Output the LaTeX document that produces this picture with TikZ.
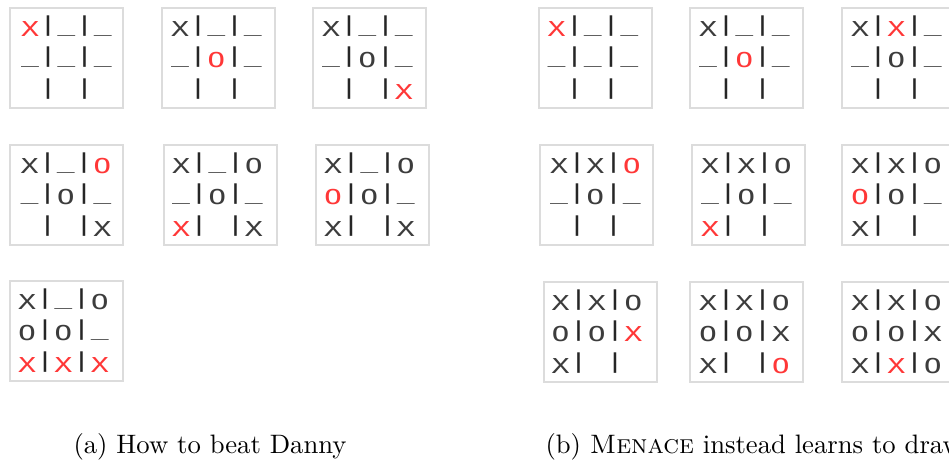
\documentclass[tikz,border=0pt]{standalone}
\usepackage{fontspec}
\newfontfamily\boardfont[FakeStretch=1.45]{DejaVu Sans Mono}
\definecolor{mr}{RGB}{255,55,55}
\definecolor{mk}{RGB}{60,60,60}
\definecolor{boxgray}{RGB}{220,220,220}
\newcommand\US{\raisebox{1.7pt}{\_}}
\newcommand\NN{\relax}
\def\rowA{29}
\def\rowP{31.5}
\tikzset{
  boardbox/.style={draw=boxgray, line width=0.75pt, anchor=north west,
    minimum width=42.4pt, minimum height=37.5pt, inner sep=0pt},
  glyph/.style={anchor=base, inner sep=0pt,
    font=\boardfont\fontsize{7.7pt}{9pt}\selectfont},
  barglyph/.style={glyph, text=black!85, yshift=1.7pt},
  caption/.style={anchor=base west, inner sep=0pt, font=\fontsize{10pt}{12pt}\selectfont}
}
% name, left, top, shift, cells
\newcommand\board[5]{%
  \node[boardbox] (#1) at (#2,#3) {};
  \foreach \g/\c [count=\i from 0] in {#5} {
    \pgfmathtruncatemacro\rr{div(\i,3)}
    \pgfmathtruncatemacro\cc{mod(\i,3)}
    \node[glyph, text=\c] (#1-\i) at ({#2+#4+36.4*\cc}, {#3+\rowA+\rowP*\rr}) {\g};
  }
  \foreach \rr in {0,1,2}{
    \foreach \cc in {0,1}{
      \node[barglyph] (#1-b\rr\cc) at ({#2+#4+18.2+36.4*\cc}, {#3+\rowA+\rowP*\rr}) {|};
    }
  }
}
\begin{document}
\begin{tikzpicture}[x=0.375pt, y=-0.375pt]
\useasboundingbox (0,0) rectangle (949,460);
% (a)
\board{a1}{9}{7}{21}{X/mr, \US/mk, \US/mk, \US/mk, \US/mk, \US/mk, \NN/mk, \NN/mk, \NN/mk}
\board{a2}{161}{7}{19}{X/mk, \US/mk, \US/mk, \US/mk, O/mr, \US/mk, \NN/mk, \NN/mk, \NN/mk}
\board{a3}{312}{7}{19}{X/mk, \US/mk, \US/mk, \US/mk, O/mk, \US/mk, \NN/mk, \NN/mk, X/mr}
\board{a4}{9}{144}{20.5}{X/mk, \US/mk, O/mr, \US/mk, O/mk, \US/mk, \NN/mk, \NN/mk, X/mk}
\board{a5}{163}{144}{18}{X/mk, \US/mk, O/mk, \US/mk, O/mk, \US/mk, X/mr, \NN/mk, X/mk}
\board{a6}{315}{144}{18}{X/mk, \US/mk, O/mk, O/mr, O/mk, \US/mk, X/mk, \NN/mk, X/mk}
\board{a7}{9}{280}{18}{X/mk, \US/mk, O/mk, O/mk, O/mk, \US/mk, X/mr, X/mr, X/mr}
% (b)
\board{b1}{538}{7}{18.5}{X/mr, \US/mk, \US/mk, \US/mk, \US/mk, \US/mk, \NN/mk, \NN/mk, \NN/mk}
\board{b2}{689}{7}{19}{X/mk, \US/mk, \US/mk, \US/mk, O/mr, \US/mk, \NN/mk, \NN/mk, \NN/mk}
\board{b3}{841}{7}{19}{X/mk, X/mr, \US/mk, \US/mk, O/mk, \US/mk, \NN/mk, \NN/mk, \NN/mk}
\board{b4}{539}{144}{20}{X/mk, X/mk, O/mr, \US/mk, O/mk, \US/mk, \NN/mk, \NN/mk, \NN/mk}
\board{b5}{691}{144}{19}{X/mk, X/mk, O/mk, \US/mk, O/mk, \US/mk, X/mr, \NN/mk, \NN/mk}
\board{b6}{841}{144}{19}{X/mk, X/mk, O/mk, O/mr, O/mk, \US/mk, X/mk, \NN/mk, \NN/mk}
\board{b7}{543}{281}{17.5}{X/mk, X/mk, O/mk, O/mk, O/mk, X/mr, X/mk, \NN/mk, \NN/mk}
\board{b8}{689}{281}{19}{X/mk, X/mk, O/mk, O/mk, O/mk, X/mk, X/mk, \NN/mk, O/mr}
\board{b9}{841}{281}{19}{X/mk, X/mk, O/mk, O/mk, O/mk, X/mk, X/mk, X/mr, O/mk}
% captions
\node[caption] (capa) at (73,453) {(a) How to beat Danny};
\node[caption] (capb) at (545,453) {(b) \textsc{Menace} instead learns to draw};
\end{tikzpicture}
\end{document}
